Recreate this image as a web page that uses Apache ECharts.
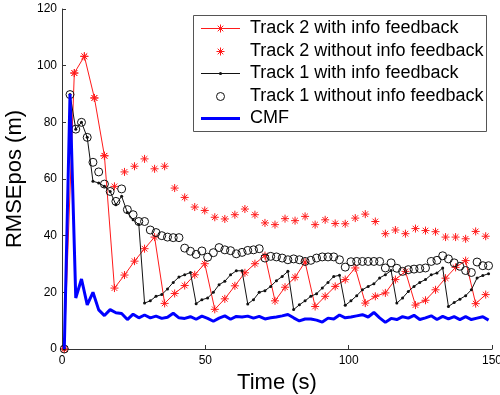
<!DOCTYPE html>
<html>
<head>
<meta charset="utf-8">
<script src="https://cdn.jsdelivr.net/npm/echarts@6/dist/echarts.min.js"></script>
<style>
html, body { margin: 0; padding: 0; background: #fff; }
#chart { width: 500px; height: 395px; }
</style>
</head>
<body>
<div id="chart"></div>
<script>
// sample times (s): track 1 / CMF every 2 s, track 2 every 3.5 s
var timeTrack1 = [0.8, 2.8, 4.8, 6.8, 8.8, 10.8, 12.8, 14.8, 16.8, 18.8, 20.8, 22.8, 24.8, 26.8, 28.8,
    30.8, 32.8, 34.8, 36.8, 38.8, 40.8, 42.8, 44.8, 46.8, 48.8, 50.8, 52.8, 54.8, 56.8, 58.8,
    60.8, 62.8, 64.8, 66.8, 68.8, 70.8, 72.8, 74.8, 76.8, 78.8, 80.8, 82.8, 84.8, 86.8, 88.8,
    90.8, 92.8, 94.8, 96.8, 98.8, 100.8, 102.8, 104.8, 106.8, 108.8, 110.8, 112.8, 114.8, 116.8, 118.8,
    120.8, 122.8, 124.8, 126.8, 128.8, 130.8, 132.8, 134.8, 136.8, 138.8, 140.8, 142.8, 144.8, 146.8, 148.8];
var timeTrack2 = [0.8, 4.3, 7.8, 11.3, 14.8, 18.3, 21.8, 25.3, 28.8, 32.3, 35.8, 39.3, 42.8, 46.3, 49.8,
    53.3, 56.8, 60.3, 63.8, 67.3, 70.8, 74.3, 77.8, 81.3, 84.8, 88.3, 91.8, 95.3, 98.8, 102.3,
    105.8, 109.3, 112.8, 116.3, 119.8, 123.3, 126.8, 130.3, 133.8, 137.3, 140.8, 144.3, 147.8];

var track2With = [0, 97.4, 103.3, 88.6, 68.2, 21.5, 26.1, 31.0, 35.4, 39.5, 16.1, 19.6, 22.4, 26.2, 30.1,
    14.0, 17.7, 22.3, 26.9, 30.1, 33.0, 17.0, 21.8, 25.3, 30.7, 15.0, 18.6, 22.1, 24.5, 28.6,
    16.2, 18.6, 19.8, 24.5, 27.4, 15.5, 17.2, 20.9, 25.0, 28.8, 31.2, 16.0, 19.2];
var track2Without = [0, 97.4, 103.3, 88.6, 68.2, 57.4, 62.5, 64.5, 67.1, 63.6, 64.5, 56.8, 53.5, 50.1, 48.9,
    46.5, 45.9, 47.4, 49.4, 47.4, 44.5, 43.9, 46.0, 45.3, 46.8, 43.9, 45.6, 44.3, 44.2, 46.2,
    47.6, 45.0, 40.7, 42.0, 40.7, 42.5, 41.8, 41.4, 39.5, 39.5, 38.9, 41.5, 39.8];
var track1With = [0, 89.8, 77.6, 80.0, 74.7, 59.2, 58.6, 57.4, 55.6, 50.9, 53.9, 48.2, 45.6, 43.9, 16.2,
    17.0, 18.6, 19.2, 21.2, 23.5, 25.4, 26.2, 27.0, 16.0, 17.4, 18.0, 20.0, 22.7, 23.9, 26.2,
    27.6, 27.6, 15.9, 17.4, 20.0, 20.6, 22.1, 24.1, 25.6, 27.4, 13.9, 15.6, 17.0, 18.6, 19.5,
    21.5, 23.5, 25.6, 26.0, 15.4, 17.0, 18.8, 20.9, 22.1, 23.0, 25.1, 26.2, 27.7, 16.2, 18.0,
    20.3, 22.1, 23.5, 24.5, 26.2, 26.8, 28.6, 15.0, 16.4, 17.6, 18.8, 20.9, 25.1, 25.9, 26.6];
var track1Without = [0, 89.8, 77.6, 80.0, 74.7, 65.9, 62.5, 58.2, 55.6, 52.1, 56.5, 49.2, 47.4, 45.0, 45.0,
    42.0, 41.1, 40.0, 39.5, 39.3, 39.3, 35.6, 34.5, 33.4, 34.6, 32.4, 34.0, 35.8, 35.0, 34.7,
    33.6, 34.1, 34.8, 35.0, 35.4, 32.1, 32.7, 32.5, 32.1, 31.5, 31.8, 31.5, 30.9, 31.3, 32.1,
    32.5, 32.5, 32.5, 31.5, 28.9, 30.8, 30.9, 30.9, 30.9, 30.9, 30.9, 28.6, 30.4, 28.5, 27.4,
    28.0, 28.2, 28.4, 28.6, 30.9, 31.3, 32.9, 31.8, 30.4, 29.2, 27.7, 27.0, 30.7, 29.4, 29.4];
var cmf = [0, 90.0, 18.0, 24.7, 15.6, 20.0, 13.8, 11.8, 13.9, 12.8, 12.5, 10.4, 12.3, 11.0, 12.0,
    11.0, 11.6, 10.8, 11.2, 12.6, 11.0, 10.8, 11.4, 10.5, 11.6, 10.8, 9.8, 10.9, 11.7, 10.5,
    11.5, 11.3, 11.6, 10.9, 11.5, 10.6, 11.0, 11.3, 11.7, 12.2, 11.0, 9.9, 10.6, 10.6, 10.2,
    9.5, 10.9, 10.6, 12.0, 11.0, 11.3, 11.7, 12.1, 11.3, 12.9, 11.0, 9.4, 10.8, 10.4, 11.4,
    10.9, 11.9, 10.4, 11.0, 11.7, 10.4, 11.5, 10.6, 11.4, 10.4, 11.4, 10.4, 10.9, 11.4, 10.2];

var legendNames = ['Track 2 with info feedback', 'Track 2 without info feedback',
    'Track 1 with info feedback', 'Track 1 without info feedback', 'CMF'];

var xTicks = { min: 0, max: 150, step: 50 };
var yTicks = { min: 0, max: 120, step: 20 };

var FONT = 'Liberation Sans, Arial, Helvetica, sans-serif';
var RED = '#ff1a1a';
var BLACK = '#111';
var BLUE = '#0000ff';
var STAR = 'path://M5 0L5 10M0 5L10 5M1.5 1.5L8.5 8.5M1.5 8.5L8.5 1.5';

function pairs(ts, vs) {
    return ts.map(function (t, i) { return [t, vs[i]]; });
}

// legend drawn by hand so the sample marks look like the plot marks
function legendStar(cx, cy) {
    var r = 4, d = 2.8, out = [];
    [[0, -r, 0, r], [-r, 0, r, 0], [-d, -d, d, d], [-d, d, d, -d]].forEach(function (s) {
        out.push({ type: 'line', shape: { x1: cx + s[0], y1: cy + s[1], x2: cx + s[2], y2: cy + s[3] },
            style: { stroke: RED, lineWidth: 1 } });
    });
    return out;
}

function buildLegend() {
    var x0 = 193.5, y0 = 15.5, w = 293, h = 116;
    var kids = [{ type: 'rect', shape: { x: x0, y: y0, width: w, height: h },
        style: { fill: '#fff', stroke: '#555', lineWidth: 1 } }];
    var lx1 = 201, lx2 = 240, mx = 220.5, tx = 250;
    legendNames.forEach(function (name, i) {
        var cy = Math.round(28 + 22.5 * i) + 0.5;
        if (i === 0) {
            kids.push({ type: 'line', shape: { x1: lx1, y1: cy, x2: lx2, y2: cy }, style: { stroke: RED, lineWidth: 1 } });
            kids = kids.concat(legendStar(mx, cy));
        } else if (i === 1) {
            kids = kids.concat(legendStar(mx, cy));
        } else if (i === 2) {
            kids.push({ type: 'line', shape: { x1: lx1, y1: cy, x2: lx2, y2: cy }, style: { stroke: BLACK, lineWidth: 1 } });
            kids.push({ type: 'circle', shape: { cx: mx, cy: cy, r: 1.6 }, style: { fill: BLACK } });
        } else if (i === 3) {
            kids.push({ type: 'circle', shape: { cx: mx, cy: cy, r: 4 }, style: { fill: 'none', stroke: BLACK, lineWidth: 1 } });
        } else {
            kids.push({ type: 'line', shape: { x1: lx1, y1: cy, x2: lx2, y2: cy }, style: { stroke: BLUE, lineWidth: 3 } });
        }
        kids.push({ type: 'text', x: tx, y: cy,
            style: { text: name, fill: '#000', font: '18px ' + FONT, textVerticalAlign: 'middle', verticalAlign: 'middle' } });
    });
    return [{ type: 'group', z: 100, children: kids }];
}

var myChart = echarts.init(document.getElementById('chart'), null, { renderer: 'canvas' });

var axisCommon = {
    type: 'value',
    axisLine: { show: true, lineStyle: { color: '#333', width: 1 } },
    axisTick: { show: true, inside: true, length: 4, lineStyle: { color: '#333' } },
    splitLine: { show: false },
    nameLocation: 'middle',
    nameTextStyle: { fontSize: 22, color: '#000', fontFamily: FONT }
};

var option = {
    animation: false,
    backgroundColor: '#fff',
    grid: { left: 62, right: 8, top: 9, bottom: 46, outerBoundsMode: 'none' },
    xAxis: Object.assign({}, axisCommon, {
        min: xTicks.min, max: xTicks.max, interval: xTicks.step,
        name: 'Time (s)', nameGap: 19,
        axisLabel: { color: '#000', fontSize: 12, margin: 6, fontFamily: FONT }
    }),
    yAxis: Object.assign({}, axisCommon, {
        min: yTicks.min, max: yTicks.max, interval: yTicks.step,
        name: 'RMSEpos (m)', nameGap: 33,
        axisLabel: { color: '#000', fontSize: 12, margin: 5, fontFamily: FONT }
    }),
    graphic: buildLegend(),
    series: [
        {
            name: legendNames[0],
            type: 'line',
            data: pairs(timeTrack2, track2With),
            symbol: STAR,
            symbolSize: 8,
            showAllSymbol: true,
            lineStyle: { color: RED, width: 1 },
            itemStyle: { color: RED, borderColor: RED, borderWidth: 1 },
            emphasis: { disabled: true },
            z: 2
        },
        {
            name: legendNames[1],
            type: 'line',
            data: pairs(timeTrack2, track2Without),
            symbol: STAR,
            symbolSize: 8,
            showAllSymbol: true,
            lineStyle: { width: 0, opacity: 0 },
            itemStyle: { color: RED, borderColor: RED, borderWidth: 1 },
            emphasis: { disabled: true },
            z: 2
        },
        {
            name: legendNames[2],
            type: 'line',
            data: pairs(timeTrack1, track1With),
            symbol: 'circle',
            symbolSize: 3,
            showAllSymbol: true,
            lineStyle: { color: BLACK, width: 1 },
            itemStyle: { color: BLACK, borderWidth: 0 },
            emphasis: { disabled: true },
            z: 3
        },
        {
            name: legendNames[3],
            type: 'line',
            data: pairs(timeTrack1, track1Without),
            symbol: 'circle',
            symbolSize: 8,
            showAllSymbol: true,
            lineStyle: { width: 0, opacity: 0 },
            itemStyle: { color: 'rgba(0,0,0,0)', borderColor: BLACK, borderWidth: 1 },
            emphasis: { disabled: true },
            z: 3
        },
        {
            name: legendNames[4],
            type: 'line',
            data: pairs(timeTrack1, cmf),
            symbol: 'none',
            lineStyle: { color: BLUE, width: 3 },
            itemStyle: { color: BLUE },
            emphasis: { disabled: true },
            z: 4
        }
    ]
};

myChart.setOption(option);
</script>
</body>
</html>
